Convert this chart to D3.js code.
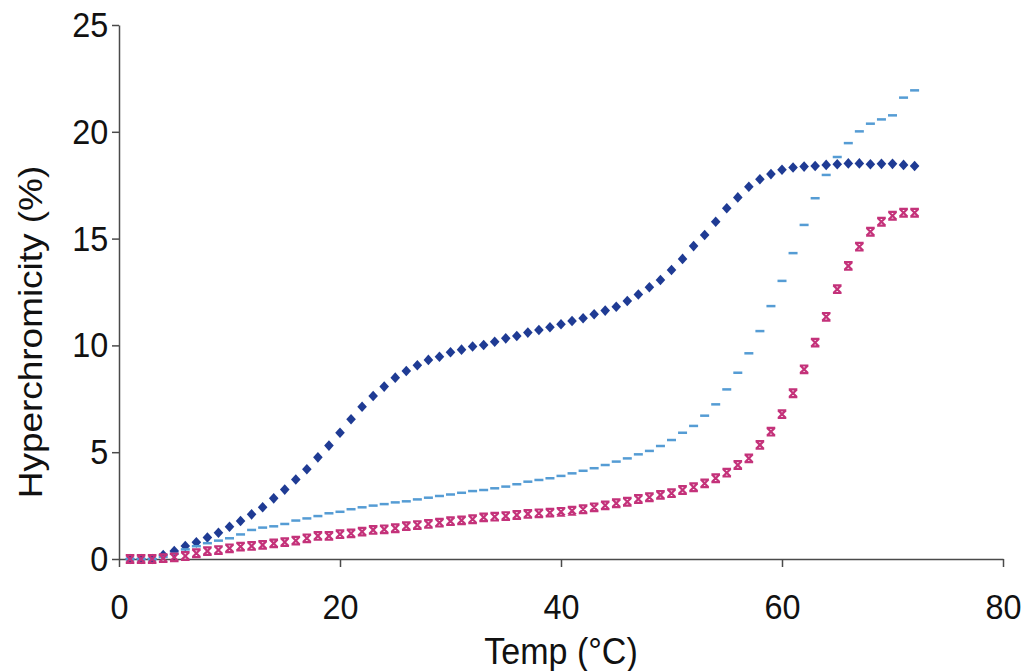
<!DOCTYPE html>
<html>
<head>
<meta charset="utf-8">
<script src="https://cdn.jsdelivr.net/npm/d3@7"></script>
<style>
  html, body { margin: 0; padding: 0; background: #ffffff; }
  svg { display: block; }
  text { font-family: "Liberation Sans", Arial, sans-serif; fill: #111; }
</style>
</head>
<body>
<svg id="chart" width="1022" height="671"></svg>
<script>
// Melting temperatures (°C) at which absorbance was sampled
const temps = [1, 2, 3, 4, 5, 6, 7, 8, 9, 10, 11, 12, 13, 14, 15, 16, 17, 18, 19, 20,
  21, 22, 23, 24, 25, 26, 27, 28, 29, 30, 31, 32, 33, 34, 35, 36, 37, 38, 39, 40,
  41, 42, 43, 44, 45, 46, 47, 48, 49, 50, 51, 52, 53, 54, 55, 56, 57, 58, 59, 60,
  61, 62, 63, 64, 65, 66, 67, 68, 69, 70, 71, 72];

// Hyperchromicity (%) — diamond series
const seriesDiamond = [0, 0, 0, 0.19, 0.37, 0.61, 0.78, 1.01, 1.23, 1.51, 1.78, 2.09, 2.42, 2.84, 3.25, 3.72, 4.2, 4.76, 5.31, 5.91,
  6.54, 7.13, 7.63, 8.07, 8.49, 8.8, 9.07, 9.32, 9.47, 9.68, 9.8, 9.95, 10.02, 10.17, 10.33, 10.44, 10.6, 10.72, 10.85, 10.99,
  11.14, 11.27, 11.46, 11.63, 11.81, 12.08, 12.38, 12.72, 13.06, 13.53, 14.05, 14.65, 15.17, 15.79, 16.42, 16.93, 17.43, 17.78, 18.02, 18.22,
  18.33, 18.37, 18.4, 18.45, 18.48, 18.52, 18.52, 18.48, 18.5, 18.5, 18.45, 18.4];

// Hyperchromicity (%) — dash series
const seriesDash = [0, 0, 0, 0.1, 0.25, 0.45, 0.6, 0.74, 0.86, 0.97, 1.15, 1.36, 1.47, 1.53, 1.64, 1.8, 1.9, 2.01, 2.14, 2.21,
  2.33, 2.42, 2.5, 2.57, 2.65, 2.7, 2.79, 2.87, 2.95, 3.02, 3.1, 3.18, 3.23, 3.31, 3.39, 3.5, 3.62, 3.7, 3.78, 3.89,
  4.01, 4.13, 4.25, 4.4, 4.56, 4.71, 4.9, 5.06, 5.29, 5.57, 5.91, 6.23, 6.71, 7.24, 7.94, 8.72, 9.63, 10.67, 11.84, 13.02,
  14.32, 15.64, 16.89, 17.98, 18.82, 19.47, 20.02, 20.38, 20.58, 20.77, 21.6, 21.94];

// Hyperchromicity (%) — cross series
const seriesCross = [0, 0, 0, 0.04, 0.08, 0.14, 0.27, 0.37, 0.42, 0.5, 0.58, 0.61, 0.66, 0.73, 0.79, 0.86, 0.97, 1.08, 1.08, 1.16,
  1.2, 1.28, 1.36, 1.39, 1.44, 1.54, 1.59, 1.64, 1.7, 1.77, 1.81, 1.86, 1.95, 1.98, 2.01, 2.06, 2.11, 2.14, 2.17, 2.21,
  2.26, 2.33, 2.42, 2.51, 2.61, 2.68, 2.81, 2.89, 3.0, 3.08, 3.23, 3.36, 3.54, 3.78, 4.04, 4.4, 4.71, 5.34, 5.96, 6.78,
  7.76, 8.88, 10.13, 11.34, 12.63, 13.72, 14.62, 15.32, 15.79, 16.07, 16.21, 16.21];

const xTicks = [0, 20, 40, 60, 80];
const yTicks = [0, 5, 10, 15, 20, 25];
const xTitle = "Temp (°C)";
const yTitle = "Hyperchromicity (%)";

const svg = d3.select("#chart");

const x = d3.scaleLinear().domain([0, 80]).range([119, 1003]);
const y = d3.scaleLinear().domain([0, 25]).range([559, 25]);

const axisColor = "#4a4a4a";

// Y axis
const gy = svg.append("g")
  .attr("transform", `translate(${x(0)},0)`)
  .call(d3.axisLeft(y).tickValues(yTicks).tickSize(7).tickSizeOuter(0).tickPadding(6).tickFormat(d3.format("d")));
gy.select(".domain").attr("stroke", axisColor).attr("stroke-width", 1.5);
gy.selectAll(".tick line").attr("stroke", axisColor).attr("stroke-width", 1.5);
gy.selectAll(".tick text")
  .attr("font-size", 36)
  .attr("fill", "#111")
  .attr("transform", "scale(0.9,1)")
  .attr("x", -12);

// X axis
const gx = svg.append("g")
  .attr("transform", `translate(0,${y(0)})`)
  .call(d3.axisBottom(x).tickValues(xTicks).tickSize(8).tickSizeOuter(0).tickPadding(8).tickFormat(d3.format("d")));
gx.select(".domain").attr("stroke", axisColor).attr("stroke-width", 1.5);
gx.selectAll(".tick line").attr("stroke", axisColor).attr("stroke-width", 1.5);
gx.selectAll(".tick text")
  .attr("font-size", 36)
  .attr("fill", "#111")
  .attr("transform", "scale(0.9,1)")
  .attr("y", 60)
  .attr("dy", 0);

// Axis titles
svg.append("text")
  .attr("transform", `translate(${x(40)},664) scale(0.92,1)`)
  .attr("text-anchor", "middle")
  .attr("font-size", 37)
  .text(xTitle);

svg.append("text")
  .attr("transform", `translate(42,332) rotate(-90) scale(1.12,1)`)
  .attr("text-anchor", "middle")
  .attr("font-size", 33)
  .text(yTitle);

const rows = (vals) => temps.map((t, i) => ({ t, v: vals[i] }));

// Diamond markers
svg.append("g").selectAll("path")
  .data(rows(seriesDiamond))
  .join("path")
  .attr("d", "M0,-5.3L4.8,0L0,5.3L-4.8,0Z")
  .attr("transform", d => `translate(${x(d.t)},${y(d.v)})`)
  .attr("fill", "#1f3b94");

// Dash markers
svg.append("g").selectAll("rect")
  .data(rows(seriesDash))
  .join("rect")
  .attr("x", d => x(d.t) - 4.5)
  .attr("y", d => y(d.v) - 1.25)
  .attr("width", 9)
  .attr("height", 2.5)
  .attr("fill", "#559cd4");

// Cross markers (x with flat caps)
svg.append("g").selectAll("path")
  .data(rows(seriesCross))
  .join("path")
  .attr("d", "M-3.8,-3.8L3.8,3.8M3.8,-3.8L-3.8,3.8M-4.3,-3.8H4.3M-4.3,3.8H4.3")
  .attr("transform", d => `translate(${x(d.t)},${y(d.v)})`)
  .attr("fill", "none")
  .attr("stroke", "#c4327a")
  .attr("stroke-width", 2.2);
</script>
</body>
</html>
